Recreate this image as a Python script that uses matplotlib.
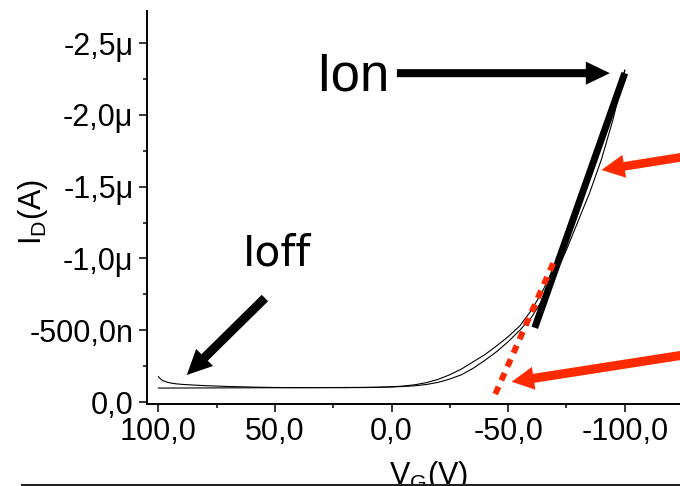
import matplotlib
matplotlib.use("Agg")
import matplotlib.pyplot as plt
from matplotlib.ticker import MultipleLocator, FuncFormatter
from matplotlib.lines import Line2D
import numpy as np

plt.rcParams["font.family"] = ["Liberation Sans", "DejaVu Sans"]
plt.rcParams["mathtext.fontset"] = "custom"
plt.rcParams["mathtext.rm"] = "Liberation Sans"
plt.rcParams["mathtext.default"] = "regular"
plt.rcParams["lines.scale_dashes"] = False

# Transfer curve, gate sweep 100 V -> -100 V (forward)
vg_fwd = [100, 99, 98, 96, 94, 92, 90, 85, 80, 70, 60, 50, 40, 20, 10, 5, 0,
          -5, -10, -15, -20, -25, -30, -35, -40, -45, -50, -55, -60, -65,
          -70, -75, -80, -85, -90, -95, -100]
id_fwd_uA = [-0.176, -0.160, -0.148, -0.137, -0.130, -0.126, -0.123, -0.118,
             -0.114, -0.108, -0.104, -0.101, -0.100, -0.100, -0.101, -0.103,
             -0.106, -0.111, -0.120, -0.135, -0.158, -0.190, -0.230, -0.280,
             -0.330, -0.390, -0.455, -0.530, -0.640, -0.780, -0.950, -1.140,
             -1.350, -1.570, -1.800, -2.050, -2.310]

# Transfer curve, gate sweep -100 V -> 100 V (reverse)
vg_rev = [-100, -95, -90, -85, -80, -75, -70, -65, -60, -55, -50, -45, -40,
          -35, -30, -25, -20, -15, -10, -5, 0, 5, 10, 20, 40, 60, 80, 100]
id_rev_uA = [-2.310, -1.970, -1.690, -1.460, -1.260, -1.060, -0.880, -0.720,
             -0.590, -0.500, -0.420, -0.350, -0.290, -0.235, -0.190, -0.160,
             -0.137, -0.122, -0.113, -0.108, -0.105, -0.103, -0.102, -0.101,
             -0.100, -0.099, -0.098, -0.097]

# Linear fit of the on-region and threshold extrapolation
fit_vg = [-61.4, -100.0]
fit_id_uA = [-0.517, -2.290]
vth_vg = [-69.3, -44.3]
vth_id_uA = [-0.966, -0.049]

x_ticks = [100, 50, 0, -50, -100]
y_ticks_uA = [0.0, -0.5, -1.0, -1.5, -2.0, -2.5]

UA = 1e-6
RED = "#ff2a00"

fig = plt.figure(figsize=(6.8, 4.86), dpi=100)
ax = fig.add_axes([0.2157, 0.1687, 0.83, 0.8087])

ax.plot(vg_fwd, np.array(id_fwd_uA) * UA, color="black", lw=0.8)
ax.plot(vg_rev, np.array(id_rev_uA) * UA, color="black", lw=0.8)
ax.plot(fit_vg, np.array(fit_id_uA) * UA, color="black", lw=5.0,
        solid_capstyle="butt")
ax.plot(vth_vg, np.array(vth_id_uA) * UA, color=RED, lw=4.3,
        dashes=(5.8, 5.0), dash_capstyle="butt")

ax.set_xlim(105, -137)
ax.set_ylim(0.014 * UA, -2.723 * UA)

ax.xaxis.set_major_locator(plt.FixedLocator(x_ticks))
ax.xaxis.set_minor_locator(MultipleLocator(25))
ax.yaxis.set_major_locator(plt.FixedLocator([v * UA for v in y_ticks_uA]))
ax.yaxis.set_minor_locator(MultipleLocator(0.25 * UA))


def fmt_x(v, pos):
    return f"{v + 0.0:.1f}".replace(".", ",")


def fmt_y(v, pos):
    if abs(v) < 1e-12:
        return "0,0"
    if abs(v) >= 1e-6 - 1e-12:
        s = f"{v * 1e6:.1f}μ"
    else:
        s = f"{v * 1e9:.1f}n"
    return s.replace(".", ",")


ax.xaxis.set_major_formatter(FuncFormatter(fmt_x))
ax.yaxis.set_major_formatter(FuncFormatter(fmt_y))

for side in ("top", "right"):
    ax.spines[side].set_visible(False)
for side in ("left", "bottom"):
    ax.spines[side].set_linewidth(1.4)

ax.tick_params(which="major", direction="out", length=5.5, width=1.1,
               labelsize=22, pad=4)
ax.tick_params(which="minor", direction="out", length=3, width=1.1)

ax.set_xlabel("V$_G$(V)", fontsize=22)
ax.set_ylabel("I$_D$(A)", fontsize=22)
ax.xaxis.set_label_coords(0.5, -0.14)
ax.yaxis.set_label_coords(-0.171, 0.489)

# Annotations
ax.text(32.5, -2.168 * UA, "Ion", fontsize=38, ha="left", va="baseline")
ax.text(63.8, -0.954 * UA, "Ioff", fontsize=30.5, ha="left", va="baseline",
        family=["DejaVu Sans"])


def arrow(tail, tip, color, head_len, head_w, tail_w):
    ax.annotate("", xy=(tip[0], tip[1] * UA), xytext=(tail[0], tail[1] * UA),
                arrowprops=dict(
                    arrowstyle=f"simple,head_length={head_len},"
                               f"head_width={head_w},tail_width={tail_w}",
                    color=color, lw=0, shrinkA=0, shrinkB=0,
                    mutation_scale=1),
                annotation_clip=False)


arrow((-2.3, -2.29), (-93.6, -2.29), "black", 17.3, 16.6, 5.8)
arrow((54.3, -0.724), (87.8, -0.188), "black", 18, 17.3, 6.5)
arrow((-132.2, -1.725), (-90.0, -1.616), RED, 16.6, 16.6, 6.2)
arrow((-132.2, -0.345), (-51.5, -0.141), RED, 16, 16.6, 6.5)

fig.add_artist(Line2D([22 / 680, 1.0], [1.5 / 486, 1.5 / 486],
                      transform=fig.transFigure, color="#222222", lw=1.5))

fig.savefig("out.png", dpi=100)
